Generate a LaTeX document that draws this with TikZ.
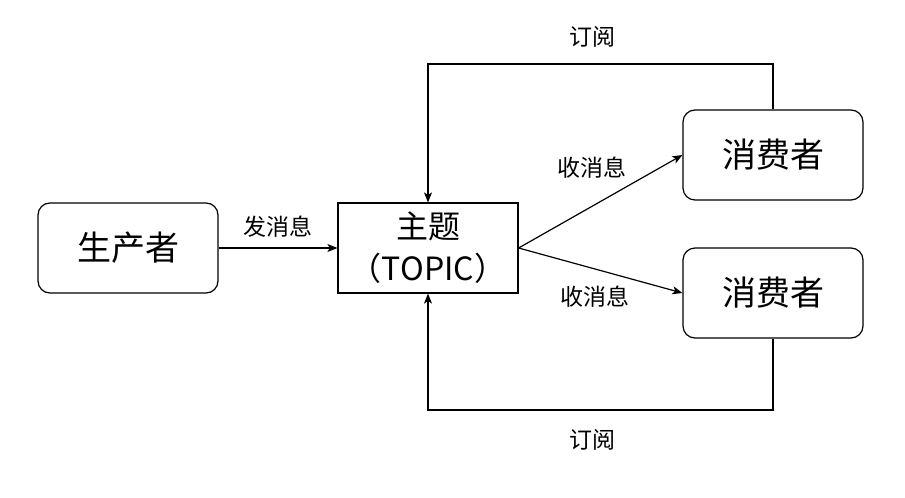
\documentclass[tikz,border=0pt]{standalone}
\usepackage{fontspec}
\setmainfont{Noto Sans CJK SC}
\usetikzlibrary{positioning, arrows.meta}

\begin{document}
\begin{tikzpicture}[
  x=1pt, y=-1pt,
  msgarrow/.style={-{Stealth[length=10pt, width=8pt, inset=2.5pt]}, line width=1.2pt},
  roleblock/.style={rectangle, rounded corners=12pt, draw=black, line width=1.2pt,
                    minimum width=180pt, minimum height=90pt,
                    align=center, font=\fontsize{34}{40}\selectfont},
  topicblock/.style={rectangle, draw=black, line width=1.2pt,
                     minimum width=180pt, minimum height=90pt,
                     align=center, font=\fontsize{32}{42}\selectfont, inner sep=0pt},
  msglabel/.style={font=\fontsize{23}{26}\selectfont, inner sep=0pt}
]
\useasboundingbox (0,0) rectangle (905,498);

% -------- blocos --------
\node[roleblock] (prod) at (128,248) {生产者};
\node[topicblock] (topic) at (428,248) {主题\\（TOPIC）};
\node[roleblock] (cons1) at (773,155) {消费者};
\node[roleblock] (cons2) at (773,293) {消费者};

% pontos de dobra das assinaturas
\coordinate (up) at (773,64);
\coordinate (down) at (773,410);

% -------- setas --------
\draw[msgarrow] (prod.east) -- (topic.west);
\draw[msgarrow] (topic.east) -- (cons1.west);
\draw[msgarrow] (topic.east) -- (cons2.west);

% assinaturas
\draw[msgarrow] (cons1.north) -- (up) -| (topic.north);
\draw[msgarrow] (cons2.south) -- (down) -| (topic.south);

% -------- rotulos --------
\node[msglabel] (lsend) at (278,227) {发消息};
\node[msglabel] (lrecv1) at (592,168) {收消息};
\node[msglabel] (lrecv2) at (595,297) {收消息};
\node[msglabel] (lsub1) at (592,37) {订阅};
\node[msglabel] (lsub2) at (592,440) {订阅};

\end{tikzpicture}
\end{document}
